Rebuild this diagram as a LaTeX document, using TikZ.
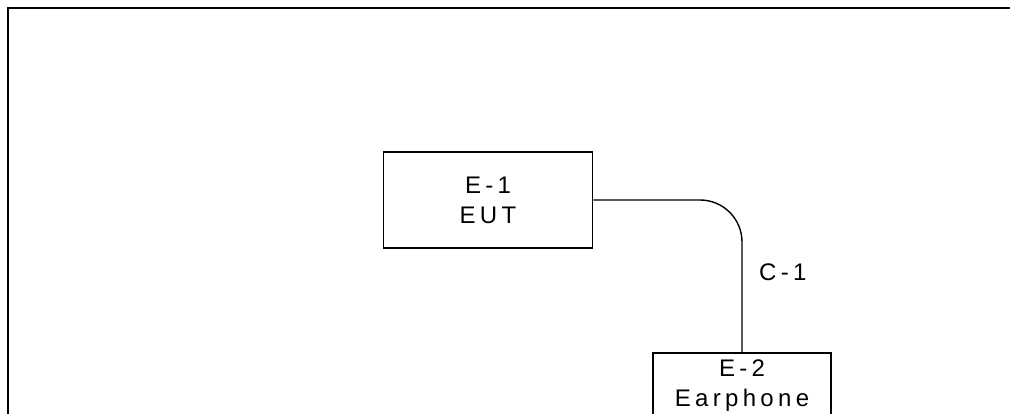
\documentclass[tikz,border=0pt]{standalone}
\usepackage{fontspec}
\setmainfont{Liberation Sans}
\newfontfamily\lblfont[LetterSpace=18]{Liberation Sans}
\begin{document}
\begin{tikzpicture}[x=1pt, y=-1pt,
  frame/.style={line width=2.4pt, line cap=rect},
  unit/.style={draw, line width=1.6pt, rectangle, inner sep=0pt},
  tag/.style={align=center, inner sep=0pt, font=\lblfont\fontsize{24}{30}\selectfont},
  cable/.style={line width=1.4pt, rounded corners=42pt}]
  \useasboundingbox (0,0) rectangle (1010,414);
  \clip (0,0) rectangle (1010,414);
  % outer frame
  \draw[frame] (1012,8) -- (8,8) -- (8,416);
  % equipment
  \node[unit, minimum width=209pt, minimum height=96pt, tag] (e1) at (488,200) {E-1\\EUT};
  \node[unit, minimum width=178pt, minimum height=90pt, anchor=north] (e2) at (742,352) {};
  \node[tag, anchor=north] (e2t) at ([yshift=-8pt]e2.north) {E-2\\Earphone};
  % cable
  \draw[cable] (e1.east) -| (e2.north);
  \node[tag, anchor=west] (c1) at (759,272) {C-1};
\end{tikzpicture}
\end{document}
